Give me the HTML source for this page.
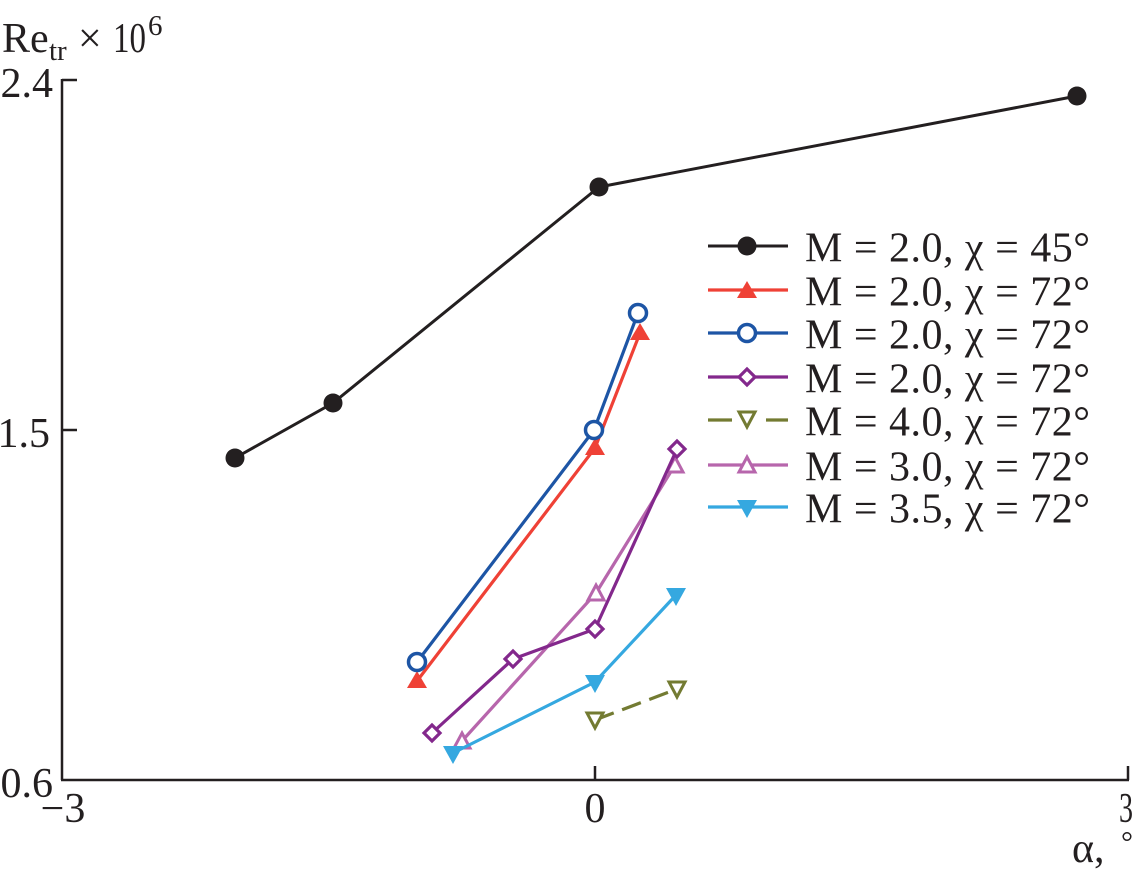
<!DOCTYPE html>
<html>
<head>
<meta charset="utf-8">
<style>
  html, body { margin: 0; padding: 0; background: #fff; }
  svg { display: block; }
  text { font-family: "Liberation Serif", "DejaVu Serif", serif; fill: #231f20; }
</style>
</head>
<body>
<svg width="1138" height="875" viewBox="0 0 1138 875" xmlns="http://www.w3.org/2000/svg">
  <!-- Axes -->
  <g stroke="#231f20" stroke-width="2.5" fill="none">
    <line x1="62" y1="79" x2="62" y2="780"/>
    <line x1="61" y1="780" x2="1129" y2="780"/>
    <line x1="62" y1="80" x2="77" y2="80"/>
    <line x1="62" y1="430" x2="77" y2="430"/>
    <line x1="595" y1="780" x2="595" y2="766"/>
    <line x1="1128" y1="780" x2="1128" y2="766"/>
  </g>

  <!-- Axis labels -->
  <text x="2" y="52" font-size="42">Re</text>
  <text x="49" y="60" font-size="29">tr</text>
  <text x="78" y="52" font-size="42">×</text>
  <text x="113" y="52" font-size="42" textLength="33" lengthAdjust="spacingAndGlyphs">10</text>
  <text x="148" y="35" font-size="29">6</text>

  <text x="53" y="97" font-size="42" text-anchor="end">2.4</text>
  <text x="50" y="447" font-size="42" text-anchor="end">1.5</text>
  <text x="53" y="797" font-size="42" text-anchor="end">0.6</text>

  <text x="63" y="822" font-size="42" text-anchor="middle">−3</text>
  <text x="595" y="822" font-size="42" text-anchor="middle">0</text>
  <text x="1119" y="822" font-size="42" textLength="14" lengthAdjust="spacingAndGlyphs">3</text>
  <text x="1072" y="862" font-size="42">α,</text>
  <text x="1121" y="852" font-size="30">°</text>

  <!-- Series: black M=2.0 chi=45 -->
  <polyline points="235,458 333,403 599,187 1077,96" fill="none" stroke="#231f20" stroke-width="3"/>
  <g fill="#231f20">
    <circle cx="235" cy="458" r="9.5"/>
    <circle cx="333" cy="403" r="9.5"/>
    <circle cx="599" cy="187" r="9.5"/>
    <circle cx="1077" cy="96" r="9.5"/>
  </g>

  <!-- Red -->
  <polyline points="417,681 595,448 640,333" fill="none" stroke="#ef4136" stroke-width="3.2"/>
  <g fill="#ef4136">
    <polygon points="417,671 427,688 407,688"/>
    <polygon points="595,438 605,455 585,455"/>
    <polygon points="640,323 650,340 630,340"/>
  </g>

  <!-- Blue -->
  <polyline points="417,662 594,430 638,313" fill="none" stroke="#1d55a5" stroke-width="3.2"/>
  <g fill="#fff" stroke="#1d55a5" stroke-width="3.5">
    <circle cx="417" cy="662" r="8.5"/>
    <circle cx="594" cy="430" r="8.5"/>
    <circle cx="638" cy="313" r="8.5"/>
  </g>

  <!-- Pink M=3.0 -->
  <polyline points="462,741 596,593 675,465" fill="none" stroke="#b766ac" stroke-width="3.2"/>
  <g fill="#fff" stroke="#b766ac" stroke-width="3">
    <polygon points="462,733 470,748 454,748"/>
    <polygon points="596,585 604,600 588,600"/>
    <polygon points="675,457 683,472 667,472"/>
  </g>

  <!-- Purple -->
  <polyline points="432,733 513,659 595,629 677,449" fill="none" stroke="#83288c" stroke-width="3.2"/>
  <g fill="#fff" stroke="#83288c" stroke-width="3.2">
    <polygon points="432,725 440,733 432,741 424,733"/>
    <polygon points="513,651 521,659 513,667 505,659"/>
    <polygon points="595,621 603,629 595,637 587,629"/>
    <polygon points="677,441 685,449 677,457 669,449"/>
  </g>

  <!-- Cyan M=3.5 -->
  <polyline points="453,753 595,682 676,595" fill="none" stroke="#35a8e0" stroke-width="3.2"/>
  <g fill="#35a8e0">
    <polygon points="443,746 463,746 453,764"/>
    <polygon points="585,675 605,675 595,693"/>
    <polygon points="666,588 686,588 676,606"/>
  </g>

  <!-- Olive M=4.0 dashed -->
  <line x1="595" y1="720" x2="677" y2="689" stroke="#737b32" stroke-width="3.2" stroke-dasharray="20 9"/>
  <g fill="#fff" stroke="#737b32" stroke-width="3">
    <polygon points="587,713 603,713 595,728"/>
    <polygon points="669,682 685,682 677,697"/>
  </g>

  <!-- Legend -->
  <g font-size="42">
    <line x1="708" y1="246" x2="788" y2="246" stroke="#231f20" stroke-width="3"/>
    <circle cx="747" cy="246" r="9.5" fill="#231f20"/>
    <text x="805" y="261.5" textLength="285" lengthAdjust="spacing">M = 2.0, χ = 45°</text>

    <line x1="708" y1="290" x2="788" y2="290" stroke="#ef4136" stroke-width="3.2"/>
    <polygon points="747,281 757,298 737,298" fill="#ef4136"/>
    <text x="805" y="305.5" textLength="285" lengthAdjust="spacing">M = 2.0, χ = 72°</text>

    <line x1="708" y1="333" x2="788" y2="333" stroke="#1d55a5" stroke-width="3.2"/>
    <circle cx="747" cy="333" r="8.5" fill="#fff" stroke="#1d55a5" stroke-width="3.5"/>
    <text x="805" y="348.5" textLength="285" lengthAdjust="spacing">M = 2.0, χ = 72°</text>

    <line x1="708" y1="377" x2="788" y2="377" stroke="#83288c" stroke-width="3.2"/>
    <polygon points="747,369 755,377 747,385 739,377" fill="#fff" stroke="#83288c" stroke-width="3.2"/>
    <text x="805" y="392.5" textLength="285" lengthAdjust="spacing">M = 2.0, χ = 72°</text>

    <line x1="708" y1="420" x2="732" y2="420" stroke="#737b32" stroke-width="3.2"/>
    <line x1="766" y1="420" x2="788" y2="420" stroke="#737b32" stroke-width="3.2"/>
    <polygon points="739,412 755,412 747,427" fill="#fff" stroke="#737b32" stroke-width="3"/>
    <text x="805" y="435.5" textLength="285" lengthAdjust="spacing">M = 4.0, χ = 72°</text>

    <line x1="708" y1="465" x2="788" y2="465" stroke="#b766ac" stroke-width="3.2"/>
    <polygon points="747,457 755,472 739,472" fill="#fff" stroke="#b766ac" stroke-width="3"/>
    <text x="805" y="480.5" textLength="285" lengthAdjust="spacing">M = 3.0, χ = 72°</text>

    <line x1="708" y1="507" x2="788" y2="507" stroke="#35a8e0" stroke-width="3.2"/>
    <polygon points="737,500 757,500 747,518" fill="#35a8e0"/>
    <text x="805" y="522.5" textLength="285" lengthAdjust="spacing">M = 3.5, χ = 72°</text>
  </g>
</svg>
</body>
</html>
